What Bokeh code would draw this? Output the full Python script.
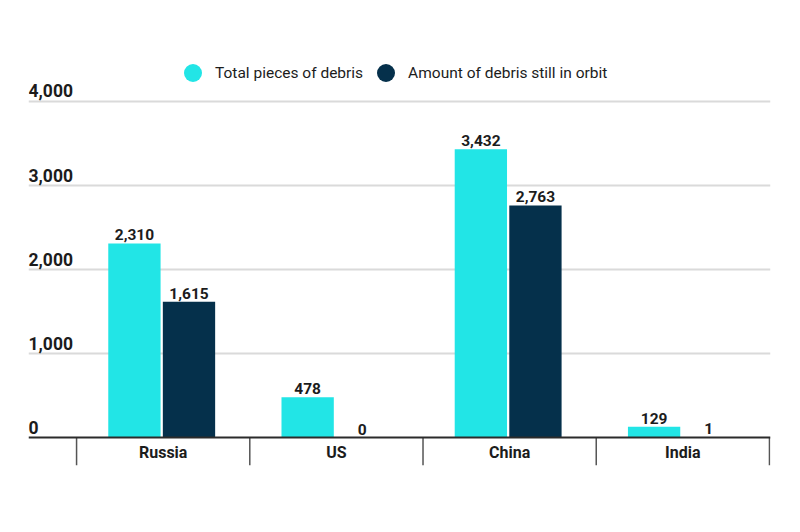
from bokeh.plotting import figure
from bokeh.models import ColumnDataSource, Range1d, Grid, FixedTicker, Span, Legend, LegendItem
from bokeh.core.properties import value
from bokeh.embed import file_html
from bokeh.resources import INLINE

# ---- data ----
categories = ["Russia", "US", "China", "India"]
total_debris = [2310, 478, 3432, 129]
debris_in_orbit = [1615, 0, 2763, 1]
y_ticks = [0, 1000, 2000, 3000, 4000]
y_tick_labels = ["0", "1,000", "2,000", "3,000", "4,000"]
series_names = ["Total pieces of debris", "Amount of debris still in orbit"]
colors = ["#22e5e6", "#05304b"]

# ---- style ----
FONT = "Roboto"
TEXT_COLOR = "#1c1c1c"
OFFSET_L = 0.166
OFFSET_R = 0.149
BAR_W = 0.302
X_START = -0.2775
Y_MIN, Y_MAX = -333, 4607
NAN = float("nan")

n = len(categories)
centers = [i + 0.5 for i in range(n)]

p = figure(width=784, height=516, output_backend="svg", toolbar_location=None,
           x_axis_type=None, y_axis_type=None,
           x_range=Range1d(X_START, n + 0.006), y_range=Range1d(Y_MIN, Y_MAX),
           min_border_left=28, min_border_right=14, min_border_top=50, min_border_bottom=51)
p.outline_line_color = None
p.background_fill_color = "white"
p.border_fill_color = "white"

# gridlines
p.add_layout(Grid(dimension=1, ticker=FixedTicker(ticks=y_ticks[1:]),
                  grid_line_color="#dadada", grid_line_width=2))

# bars
src1 = ColumnDataSource(dict(x=[c - OFFSET_L for c in centers], top=total_debris,
                             lab=[f"{v:,}" for v in total_debris]))
src2 = ColumnDataSource(dict(x=[c + OFFSET_R for c in centers], top=debris_in_orbit,
                             lab=[f"{v:,}" for v in debris_in_orbit]))
p.vbar(x="x", top="top", width=BAR_W, source=src1, fill_color=colors[0], line_color=None)
p.vbar(x="x", top="top", width=BAR_W, source=src2, fill_color=colors[1], line_color=None)

# value labels
for src in (src1, src2):
    p.text(x="x", y="top", text="lab", source=src, text_align="center",
           text_baseline="bottom", y_offset=-3, text_font=value(FONT),
           text_font_size="15.5px", text_font_style="bold", text_color=TEXT_COLOR)

# y tick labels
p.text(x=[X_START] * len(y_ticks), y=y_ticks, text=y_tick_labels, text_align="left",
       text_baseline="bottom", y_offset=-4, text_font=value(FONT),
       text_font_size="17.5px", text_font_style="bold", text_color=TEXT_COLOR)

# baseline
p.add_layout(Span(location=0, dimension="width", line_color="#2b2b2b", line_width=2))

# category separators
seps = list(range(n + 1))
p.segment(x0=seps, y0=[0] * len(seps), x1=seps, y1=[Y_MIN] * len(seps),
          line_color="#555555", line_width=1.5)

# category labels
p.text(x=centers, y=[0] * n, text=categories, text_align="center", text_baseline="middle",
       y_offset=15, text_font=value(FONT), text_font_size="16px", text_font_style="bold",
       text_color=TEXT_COLOR)

# legend (marker-only renderers with no visible points)
r1 = p.scatter(x=[NAN], y=[NAN], marker="circle", size=18, fill_color=colors[0], line_color=None)
r2 = p.scatter(x=[NAN], y=[NAN], marker="circle", size=18, fill_color=colors[1], line_color=None)
legend = Legend(items=[LegendItem(label=series_names[0], renderers=[r1]),
                       LegendItem(label=series_names[1], renderers=[r2])],
                orientation="horizontal", location=(142, 370),
                glyph_width=45, glyph_height=45, label_standoff=-4, spacing=-8,
                padding=0, margin=0, border_line_color=None, background_fill_alpha=0,
                label_text_font=FONT, label_text_font_size="15.5px",
                label_text_color=TEXT_COLOR, label_text_baseline="middle")
p.add_layout(legend)

open("out.html", "w").write(file_html(p, INLINE))
